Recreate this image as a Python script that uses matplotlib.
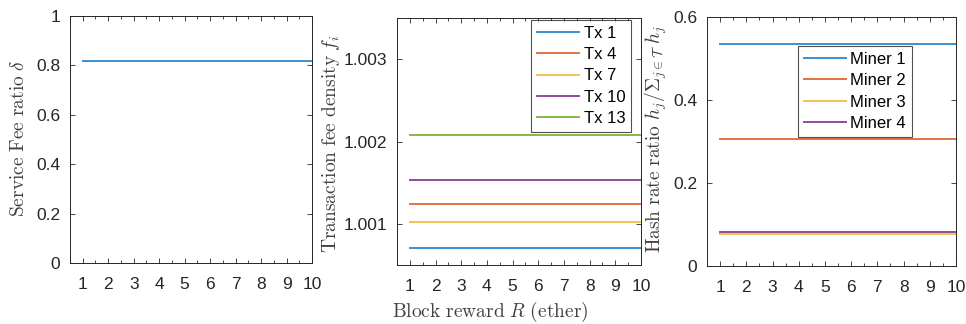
import matplotlib
matplotlib.use("Agg")
import matplotlib.pyplot as plt
import numpy as np
from matplotlib.ticker import MultipleLocator

plt.rcParams['font.family'] = ['Liberation Sans', 'DejaVu Sans']
plt.rcParams['mathtext.fontset'] = 'cm'

R = list(range(1, 11))
service_fee = 0.818
tx_labels = ['Tx 1', 'Tx 4', 'Tx 7', 'Tx 10', 'Tx 13']
tx_density = [1.000702, 1.001244, 1.001024, 1.001537, 1.002073]
miner_labels = ['Miner 1', 'Miner 2', 'Miner 3', 'Miner 4']
hash_ratio = [0.536, 0.307, 0.076, 0.082]

colors = ['#3b8fd0', '#e1723f', '#f2c254', '#8e4b9b', '#86b84a']

fig = plt.figure(figsize=(9.66, 3.24), dpi=100)
W, H = 966, 324

def mk_ax(l, r, t, b):
    return fig.add_axes([l / W, 1 - b / H, (r - l) / W, (b - t) / H])

ax1 = mk_ax(70, 312, 16, 263)
ax2 = mk_ax(397, 641, 18, 265)
ax3 = mk_ax(707, 956, 17, 266)

for ax in (ax1, ax2, ax3):
    ax.set_xlim(0.5, 10)
    ax.set_xticks(R)
    ax.xaxis.set_minor_locator(MultipleLocator(0.5))
    ax.tick_params(which='both', direction='in', top=True, right=True,
                   labelsize=12.5, colors='#262626', width=0.6)
    ax.tick_params(which='major', length=3.5, pad=7)
    ax.tick_params(axis='x', which='major', pad=10)
    ax.tick_params(which='minor', length=2.5)
    for s in ax.spines.values():
        s.set_color('#262626')
        s.set_linewidth(0.7)

lab_kw = dict(fontsize=14, color='#404040', rotation=90, ha='center', va='center')
leg_kw = dict(fontsize=12, frameon=True, fancybox=False, edgecolor='#262626',
              handlelength=2.5, handletextpad=0.3, labelspacing=0.38,
              borderpad=0.35, borderaxespad=0.0, loc='upper left')

def ytext(x, y, s):
    fig.text(x / W, 1 - y / H, s, **lab_kw)

# Panel 1
ax1.plot(R, [service_fee] * len(R), color=colors[0], lw=1.4)
ax1.set_ylim(0, 1)
ax1.set_yticks([0, 0.2, 0.4, 0.6, 0.8, 1])
ax1.set_yticklabels(['0', '0.2', '0.4', '0.6', '0.8', '1'])
ytext(19, 138, r'$\mathrm{Service\ Fee\ ratio}\ \delta$')

# Panel 2
for lab, v, c in zip(tx_labels, tx_density, colors):
    ax2.plot(R, [v] * len(R), color=c, lw=1.4, label=lab)
ax2.set_ylim(1.0005, 1.0035)
ax2.set_yticks([1.001, 1.002, 1.003])
ax2.set_yticklabels(['1.001', '1.002', '1.003'])
ytext(331, 144, r'$\mathrm{Transaction\ fee\ density}\ f_i$')
fig.text(490 / W, 1 - 312 / H, r'$\mathrm{Block\ reward}\ R\ \mathrm{(ether)}$',
         fontsize=14, color='#404040', ha='center', va='center')
leg2 = ax2.legend(bbox_to_anchor=((531 - 397) / 244, 1 - 2 / 247), **leg_kw)
leg2.get_frame().set_linewidth(0.8)

# Panel 3
for lab, v, c in zip(miner_labels, hash_ratio, colors[:4]):
    ax3.plot(R, [v] * len(R), color=c, lw=1.4, label=lab)
ax3.set_ylim(0, 0.6)
ax3.set_yticks([0, 0.2, 0.4, 0.6])
ax3.set_yticklabels(['0', '0.2', '0.4', '0.6'])
ytext(656, 139, r'$\mathrm{Hash\ rate\ ratio}\ h_j/\Sigma_{j\in\mathcal{T}}\ h_j$')
leg3 = ax3.legend(bbox_to_anchor=(91 / 249, 1 - 29 / 249), **leg_kw)
leg3.get_frame().set_linewidth(0.8)

fig.savefig('out.png', dpi=100)
